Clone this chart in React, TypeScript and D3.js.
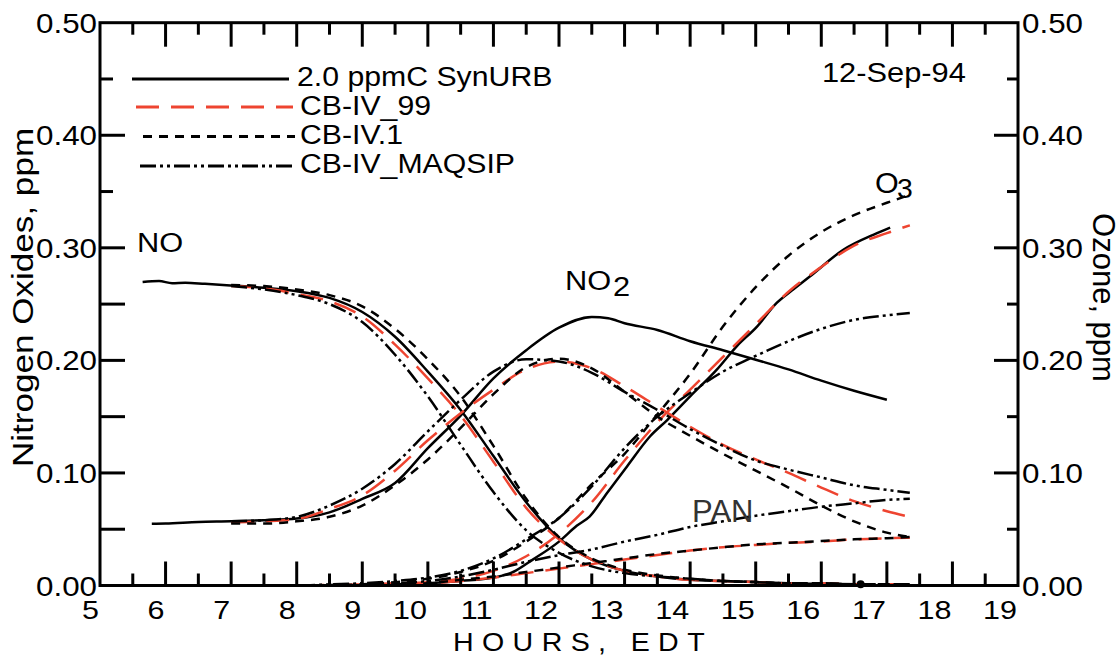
import React from "react";
import * as d3 from "d3";

// ---------- data (hours EDT, ppm) ----------
const MODEL_HOURS = [7, 7.5, 8, 8.5, 9, 9.5, 10, 10.5, 11, 11.5, 12, 12.5, 13, 13.5, 14, 14.5, 15, 15.5, 16, 16.5, 17, 17.35];

// CB-IV_99
const CB99_NO = [0.266, 0.264, 0.259, 0.2525, 0.239, 0.214, 0.184, 0.151, 0.11, 0.069, 0.041, 0.023, 0.013, 0.008, 0.005, 0.004, 0.003, 0.002, 0.002, 0.001, 0.001, 0.001];
const CB99_NO2 = [0.056, 0.057, 0.059, 0.068, 0.08, 0.102, 0.129, 0.153, 0.174, 0.192, 0.199, 0.193, 0.177, 0.159, 0.141, 0.125, 0.112, 0.1, 0.087, 0.075, 0.066, 0.061];
const CB99_O3 = [0, 0, 0, 0.0005, 0.001, 0.002, 0.003, 0.006, 0.013, 0.026, 0.046, 0.074, 0.111, 0.145, 0.174, 0.203, 0.232, 0.261, 0.283, 0.302, 0.313, 0.32];
const CB99_PAN = [0, 0, 0, 0, 0.0005, 0.001, 0.002, 0.004, 0.007, 0.011, 0.015, 0.019, 0.023, 0.027, 0.031, 0.034, 0.036, 0.038, 0.039, 0.041, 0.042, 0.0425];

// CB-IV.1
const CB41_NO = [0.267, 0.266, 0.263, 0.258, 0.248, 0.228, 0.201, 0.168, 0.124, 0.077, 0.043, 0.024, 0.014, 0.009, 0.006, 0.004, 0.003, 0.002, 0.002, 0.001, 0.001, 0.001];
const CB41_NO2 = [0.055, 0.055, 0.057, 0.061, 0.071, 0.089, 0.112, 0.14, 0.17, 0.194, 0.2015, 0.193, 0.172, 0.15, 0.133, 0.117, 0.102, 0.087, 0.071, 0.057, 0.047, 0.043];
const CB41_O3 = [0, 0, 0, 0.0005, 0.001, 0.003, 0.006, 0.012, 0.022, 0.039, 0.06, 0.09, 0.117, 0.152, 0.188, 0.23, 0.265, 0.293, 0.314, 0.329, 0.34, 0.347];
const CB41_PAN = [0, 0, 0, 0, 0.0005, 0.001, 0.002, 0.005, 0.008, 0.012, 0.016, 0.02, 0.024, 0.028, 0.031, 0.034, 0.0365, 0.038, 0.0395, 0.041, 0.042, 0.043];

// CB-IV_MAQSIP
const MAQ_NO = [0.266, 0.263, 0.258, 0.25, 0.234, 0.205, 0.168, 0.125, 0.083, 0.049, 0.029, 0.017, 0.011, 0.008, 0.006, 0.004, 0.003, 0.002, 0.002, 0.001, 0.001, 0.001];
const MAQ_NO2 = [0.057, 0.058, 0.061, 0.071, 0.086, 0.108, 0.137, 0.165, 0.19, 0.201, 0.199, 0.189, 0.172, 0.156, 0.139, 0.124, 0.111, 0.103, 0.096, 0.089, 0.085, 0.0823];
const MAQ_O3 = [0, 0, 0, 0.001, 0.002, 0.004, 0.007, 0.013, 0.024, 0.041, 0.06, 0.088, 0.122, 0.15, 0.171, 0.19, 0.204, 0.217, 0.228, 0.236, 0.24, 0.242];
const MAQ_PAN = [0, 0, 0, 0.0005, 0.001, 0.002, 0.004, 0.008, 0.014, 0.021, 0.027, 0.032, 0.039, 0.045, 0.052, 0.057, 0.062, 0.066, 0.07, 0.073, 0.076, 0.077];

// 2.0 ppmC SynURB (chamber)
const SYN_NO_HOURS = [5.65, 5.9, 6.1, 6.3, 6.6, 7.0, 7.5, 8.0, 8.5, 9.0, 9.5, 10.0, 10.5, 11.0, 11.5, 12.0, 12.5, 13.0, 13.5, 14.0, 14.5, 15.0, 15.5, 16.0, 16.6];
const SYN_NO = [0.2697, 0.2705, 0.2685, 0.269, 0.268, 0.2665, 0.2645, 0.2615, 0.2555, 0.243, 0.221, 0.19, 0.156, 0.115, 0.074, 0.042, 0.023, 0.013, 0.008, 0.005, 0.004, 0.003, 0.002, 0.0015, 0.001];
const SYN_NO2_HOURS = [5.79, 6.0, 6.5, 7.0, 7.5, 8.0, 8.5, 9.0, 9.5, 10.0, 10.5, 11.0, 11.5, 12.0, 12.5, 12.75, 13.0, 13.5, 14.0, 14.5, 15.0, 15.5, 16.0, 16.5, 17.0];
const SYN_NO2 = [0.0548, 0.055, 0.0565, 0.057, 0.058, 0.0595, 0.065, 0.077, 0.091, 0.122, 0.151, 0.184, 0.209, 0.229, 0.2386, 0.2375, 0.233, 0.227, 0.217, 0.209, 0.2006, 0.192, 0.182, 0.173, 0.165];
const SYN_O3_HOURS = [9.0, 9.5, 10.0, 10.5, 11.0, 11.3, 11.6, 12.0, 12.27, 12.47, 12.73, 13.04, 13.39, 13.65, 14.0, 14.41, 14.71, 15.02, 15.32, 15.55, 15.83, 16.33, 16.85, 17.05];
const SYN_O3 = [0, 0.001, 0.002, 0.004, 0.007, 0.012, 0.023, 0.039, 0.053, 0.0615, 0.082, 0.106, 0.1326, 0.147, 0.168, 0.192, 0.2125, 0.23, 0.251, 0.262, 0.2747, 0.298, 0.313, 0.318];

const X_TICKS = [5, 6, 7, 8, 9, 10, 11, 12, 13, 14, 15, 16, 17, 18, 19];
const Y_TICKS = [0, 0.1, 0.2, 0.3, 0.4, 0.5];
const LEGEND = ["2.0 ppmC SynURB", "CB-IV_99", "CB-IV.1", "CB-IV_MAQSIP"];

// ---------- styles ----------
const RED = "#ee4430";
const FONT = "'Liberation Sans', Arial, Helvetica, sans-serif";
const STYLES = [
  { stroke: "#000", dash: undefined },
  { stroke: RED, dash: "23,12" },
  { stroke: "#000", dash: "9,7" },
  { stroke: "#000", dash: "16,4,3,4,3,4" },
];

const x = d3.scaleLinear().domain([5, 19]).range([100, 1018]);
const y = d3.scaleLinear().domain([0, 0.5]).range([585.5, 22.7]);

const line = d3
  .line<[number, number]>()
  .x((d) => x(d[0]))
  .y((d) => y(d[1]))
  .curve(d3.curveMonotoneX);

function pairs(hs: number[], vs: number[]): [number, number][] {
  return hs.map((h, i) => [h, vs[i]] as [number, number]);
}

function T(props: {
  x: number;
  y: number;
  sx?: number;
  rot?: number;
  size?: number;
  anchor?: string;
  fill?: string;
  ls?: number;
  children: React.ReactNode;
}) {
  const { sx = 1.1, rot = 0, size = 27, anchor = "start", fill = "#000", ls } = props;
  return (
    <text
      transform={`translate(${props.x},${props.y}) rotate(${rot}) scale(${sx},1)`}
      fontSize={size}
      fontFamily={FONT}
      textAnchor={anchor}
      fill={fill}
      style={ls ? { letterSpacing: `${ls}px` } : undefined}
    >
      {props.children}
    </text>
  );
}

export default function App() {
  const modelSets = [
    [CB99_NO, CB99_NO2, CB99_O3, CB99_PAN],
    [CB41_NO, CB41_NO2, CB41_O3, CB41_PAN],
    [MAQ_NO, MAQ_NO2, MAQ_O3, MAQ_PAN],
  ];
  const synSets: [number[], number[]][] = [
    [SYN_NO_HOURS, SYN_NO],
    [SYN_NO2_HOURS, SYN_NO2],
    [SYN_O3_HOURS, SYN_O3],
  ];

  const halfTicks = d3.range(5.5, 19, 0.5);
  const yMinor = d3.range(0.05, 0.5, 0.05);

  const legendRows = [
    { x1: 132, x2: 289, ly: 79, tx: 297, ty: 86 },
    { x1: 136, x2: 293, ly: 107, tx: 300, ty: 115 },
    { x1: 143, x2: 295, ly: 136.5, tx: 300, ty: 144 },
    { x1: 140, x2: 295, ly: 166, tx: 300, ty: 173 },
  ];

  return (
    <svg
      width={1120}
      height={662}
      style={{ position: "absolute", left: 0, top: 0, background: "#fff" }}
    >
      <rect width={1120} height={662} fill="#fff" />

      {/* curves */}
      <g fill="none" strokeWidth={2.5} strokeLinejoin="round">
        {synSets.map(([hs, vs], i) => (
          <path key={"s" + i} d={line(pairs(hs, vs)) || ""} stroke="#000" />
        ))}
        {modelSets.map((set, si) =>
          set.map((vs, k) => (
            <path
              key={`m${si}-${k}`}
              d={line(pairs(MODEL_HOURS, vs)) || ""}
              stroke={STYLES[si + 1].stroke}
              strokeDasharray={STYLES[si + 1].dash}
            />
          ))
        )}
        <circle
          cx={x(SYN_NO_HOURS[SYN_NO_HOURS.length - 1])}
          cy={y(SYN_NO[SYN_NO.length - 1])}
          r={4}
          fill="#000"
        />
      </g>

      {/* frame and ticks */}
      <g stroke="#000" strokeWidth={3} fill="none">
        <rect x={100} y={22.7} width={918} height={562.8} />
        {halfTicks.map((h) => {
          const len = Number.isInteger(h) ? 24 : 12;
          return (
            <g key={"xt" + h}>
              <line x1={x(h)} x2={x(h)} y1={585.5} y2={585.5 - len} />
              <line x1={x(h)} x2={x(h)} y1={22.7} y2={22.7 + len} />
            </g>
          );
        })}
        {yMinor.map((v) => {
          const major = Math.abs(v * 10 - Math.round(v * 10)) < 1e-6;
          const leftLen = !major && y(v) < 200 ? 13 : 25;
          return (
            <g key={"yt" + v}>
              <line x1={100} x2={100 + leftLen} y1={y(v)} y2={y(v)} />
              <line x1={1018} x2={1018 - (major ? 24 : 11)} y1={y(v)} y2={y(v)} />
            </g>
          );
        })}
      </g>

      {/* tick labels */}
      {X_TICKS.map((h) => (
        <T key={"xl" + h} x={x(h) - 1} y={619} size={25} sx={1.22} anchor="end">
          {String(h)}
        </T>
      ))}
      {Y_TICKS.map((v) => (
        <T key={"yl" + v} x={97} y={y(v) + 10} size={28} sx={1.12} anchor="end">
          {v.toFixed(2)}
        </T>
      ))}
      {Y_TICKS.map((v) => (
        <T key={"yr" + v} x={1022} y={y(v) + 10} size={28} sx={1.12}>
          {v.toFixed(2)}
        </T>
      ))}

      {/* axis titles */}
      <T x={453} y={651} size={26} sx={1.1} ls={7.6}>
        HOURS, EDT
      </T>
      <T x={33} y={297.5} rot={-90} size={30} sx={1.17} anchor="middle">
        Nitrogen Oxides, ppm
      </T>
      <T x={1093} y={297.5} rot={90} size={31} sx={1.0} anchor="middle">
        Ozone, ppm
      </T>

      {/* legend */}
      {LEGEND.map((name, i) => {
        const r = legendRows[i];
        return (
          <g key={"lg" + i}>
            <line
              x1={r.x1}
              x2={r.x2}
              y1={r.ly}
              y2={r.ly}
              stroke={STYLES[i].stroke}
              strokeDasharray={STYLES[i].dash}
              strokeWidth={3}
            />
            <T x={r.tx} y={r.ty} size={27} sx={1.12}>
              {name}
            </T>
          </g>
        );
      })}

      {/* annotations */}
      <T x={822} y={82} size={28} sx={1.1}>
        12-Sep-94
      </T>
      <T x={137} y={252} size={28} sx={1.1}>
        NO
      </T>
      <T x={565} y={290} size={28} sx={1.1}>
        NO
      </T>
      <T x={613} y={296} size={28} sx={1.1}>
        2
      </T>
      <T x={875} y={193} size={29} sx={1.05}>
        O
      </T>
      <T x={897} y={198} size={27} sx={1.05}>
        3
      </T>
      <T x={692} y={522} size={31} sx={1.0} fill="#333">
        PAN
      </T>
    </svg>
  );
}
